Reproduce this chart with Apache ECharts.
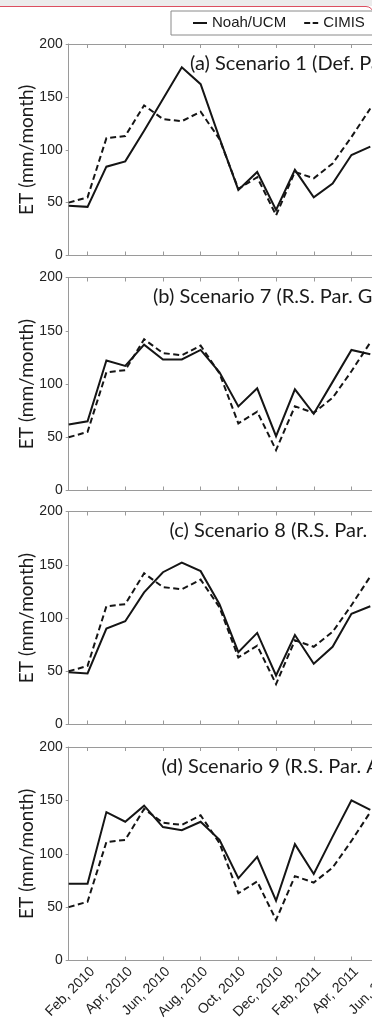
<!DOCTYPE html>
<html>
<head>
<meta charset="utf-8">
<script src="https://cdn.jsdelivr.net/npm/echarts@6/dist/echarts.min.js"></script>
<style>
  html, body { margin: 0; padding: 0; background: #ffffff; overflow: hidden; width: 372px; height: 1030px; }
  #strip { position: absolute; left: 0; top: 0; width: 372px; height: 6px; background: #ececec; z-index: 0; }
  #frame { position: absolute; left: -20px; top: 6px; width: 392px; height: 1100px;
           border: 1px solid #dc4f60; border-radius: 8px; pointer-events: none; z-index: 2; }
  #chart { position: absolute; left: 0; top: 0; width: 540px; height: 1030px; z-index: 1; }
</style>
</head>
<body>
<div id="strip"></div>
<div id="chart"></div>
<div id="frame"></div>
<script>
// Monthly time axis, Jan 2010 - Dec 2011
const months = [
  'Jan, 2010', 'Feb, 2010', 'Mar, 2010', 'Apr, 2010', 'May, 2010', 'Jun, 2010',
  'Jul, 2010', 'Aug, 2010', 'Sep, 2010', 'Oct, 2010', 'Nov, 2010', 'Dec, 2010',
  'Jan, 2011', 'Feb, 2011', 'Mar, 2011', 'Apr, 2011', 'May, 2011', 'Jun, 2011',
  'Jul, 2011', 'Aug, 2011', 'Sep, 2011', 'Oct, 2011', 'Nov, 2011', 'Dec, 2011'
];

// Observed ET (mm/month), CIMIS
const cimis = [50, 55, 111, 113, 142, 129, 127, 136, 110, 63, 74, 38, 79, 73, 87, 112, 139];

// Simulated ET (mm/month), Noah/UCM, one array per scenario
const noahS1 = [47, 46, 84, 89, 118, 148, 178, 162, 111, 62, 79, 43, 81, 55, 68, 95, 103];
const noahS7 = [62, 65, 122, 117, 137, 123, 123, 132, 111, 79, 96, 51, 95, 72, 102, 132, 128];
const noahS8 = [49, 48, 90, 97, 124, 143, 152, 144, 113, 68, 86, 46, 84, 57, 73, 104, 111];
const noahS9 = [72, 72, 139, 130, 145, 125, 122, 130, 113, 77, 97, 56, 109, 81, 116, 150, 141];

const panelTitles = [
  '(a) Scenario 1 (Def. Par.)',
  '(b) Scenario 7 (R.S. Par. GVF)',
  '(c) Scenario 8 (R.S. Par. LAI)',
  '(d) Scenario 9 (R.S. Par. All)'
];
const yTicks = [0, 50, 100, 150, 200];
const yName = 'ET (mm/month)';
const seriesNames = ['Noah/UCM', 'CIMIS'];

const noahSets = [noahS1, noahS7, noahS8, noahS9];

// panel geometry (px)
const panelTop = [44, 277.5, 511.5, 747];
const panelHeight = [211.5, 213, 213, 213.5];
const plotLeft = 68.7;
const monthStep = 18.85;
const plotWidth = monthStep * (months.length - 1);
const W = 540;

const axisGrey = '#9a9a9a';
const inkColor = '#151515';
const everyOther = function (idx) { return idx % 2 === 1; };

// legend glyphs: a solid bar and a two-dash bar
const solidIcon = 'path://M0,0H14V2H0Z';
const dashIcon = 'path://M0,0H6V2H0Z M8.5,0H14V2H8.5Z';

const grids = [], xAxes = [], yAxes = [], series = [], graphics = [];

for (let k = 0; k < 4; k++) {
  grids.push({
    left: plotLeft,
    top: panelTop[k],
    width: plotWidth,
    height: panelHeight[k],
    containLabel: false,
    outerBoundsMode: 'none'
  });
  const isLast = k === 3;
  // bottom axis
  xAxes.push({
    type: 'category',
    gridIndex: k,
    position: 'bottom',
    data: months,
    boundaryGap: false,
    axisLine: { show: true, lineStyle: { color: axisGrey, width: 1 } },
    axisTick: { show: true, inside: true, length: 4, interval: everyOther, lineStyle: { color: axisGrey } },
    axisLabel: {
      show: isLast,
      interval: everyOther,
      rotate: 45,
      align: 'right',
      verticalAlign: 'top',
      margin: 4,
      fontFamily: '"Liberation Sans", Arial, sans-serif',
      fontSize: 14,
      color: '#222'
    },
    splitLine: { show: false }
  });
  // top axis (box edge)
  xAxes.push({
    type: 'category',
    gridIndex: k,
    position: 'top',
    data: months,
    boundaryGap: false,
    axisLine: { show: true, onZero: false, lineStyle: { color: axisGrey, width: 1 } },
    axisTick: { show: true, inside: true, length: 4, interval: everyOther, lineStyle: { color: axisGrey } },
    axisLabel: { show: false },
    splitLine: { show: false }
  });
  yAxes.push({
    type: 'value',
    gridIndex: k,
    min: yTicks[0],
    max: yTicks[yTicks.length - 1],
    interval: yTicks[1] - yTicks[0],
    axisLine: { show: true, lineStyle: { color: axisGrey, width: 1 } },
    axisTick: { show: true, inside: false, length: 3, lineStyle: { color: axisGrey } },
    axisLabel: {
      margin: 6,
      fontFamily: '"Liberation Sans", Arial, sans-serif',
      fontSize: 14,
      color: '#222'
    },
    splitLine: { show: false }
  });
  series.push({
    name: seriesNames[0],
    type: 'line',
    xAxisIndex: 2 * k,
    yAxisIndex: k,
    data: noahSets[k],
    symbol: 'none',
    silent: true,
    lineStyle: { color: inkColor, width: 2, type: 'solid', join: 'miter' },
    itemStyle: { color: inkColor },
    z: 3
  });
  series.push({
    name: seriesNames[1],
    type: 'line',
    xAxisIndex: 2 * k,
    yAxisIndex: k,
    data: cimis,
    symbol: 'none',
    silent: true,
    lineStyle: { color: inkColor, width: 2, type: [6, 3.5], join: 'miter' },
    itemStyle: { color: inkColor },
    z: 2
  });
  // panel caption
  graphics.push({
    type: 'text',
    x: [190, 153, 169.5, 161.5][k],
    y: panelTop[k] + 19.5,
    z: 10,
    style: {
      text: panelTitles[k],
      font: '20px Lato, "Open Sans", sans-serif',
      fill: '#1a1a1a',
      verticalAlign: 'middle'
    }
  });
  // y-axis name
  graphics.push({
    type: 'text',
    x: 27,
    y: panelTop[k] + panelHeight[k] / 2,
    rotation: Math.PI / 2,
    z: 10,
    style: {
      text: yName,
      font: '19px Lato, "Open Sans", sans-serif',
      fill: '#1a1a1a',
      align: 'center',
      verticalAlign: 'middle'
    }
  });
}

const chart = echarts.init(document.getElementById('chart'), null, { renderer: 'canvas', width: W, height: 1030 });
chart.setOption({
  animation: false,
  backgroundColor: 'transparent',
  grid: grids,
  xAxis: xAxes,
  yAxis: yAxes,
  series: series,
  legend: {
    data: [
      { name: seriesNames[0], icon: solidIcon },
      { name: seriesNames[1], icon: dashIcon }
    ],
    left: 171,
    top: 11,
    orient: 'horizontal',
    padding: [4, 10, 4, 22],
    itemGap: 18,
    itemWidth: 14,
    itemHeight: 14,
    symbolKeepAspect: true,
    borderColor: '#8a8a8a',
    borderWidth: 1,
    backgroundColor: '#ffffff',
    selectedMode: false,
    itemStyle: { color: inkColor, borderWidth: 0 },
    lineStyle: { width: 0 },
    textStyle: {
      fontFamily: '"Liberation Sans", Arial, sans-serif',
      fontSize: 15,
      color: '#1a1a1a',
      lineHeight: 16
    }
  },
  graphic: graphics
});
</script>
</body>
</html>
